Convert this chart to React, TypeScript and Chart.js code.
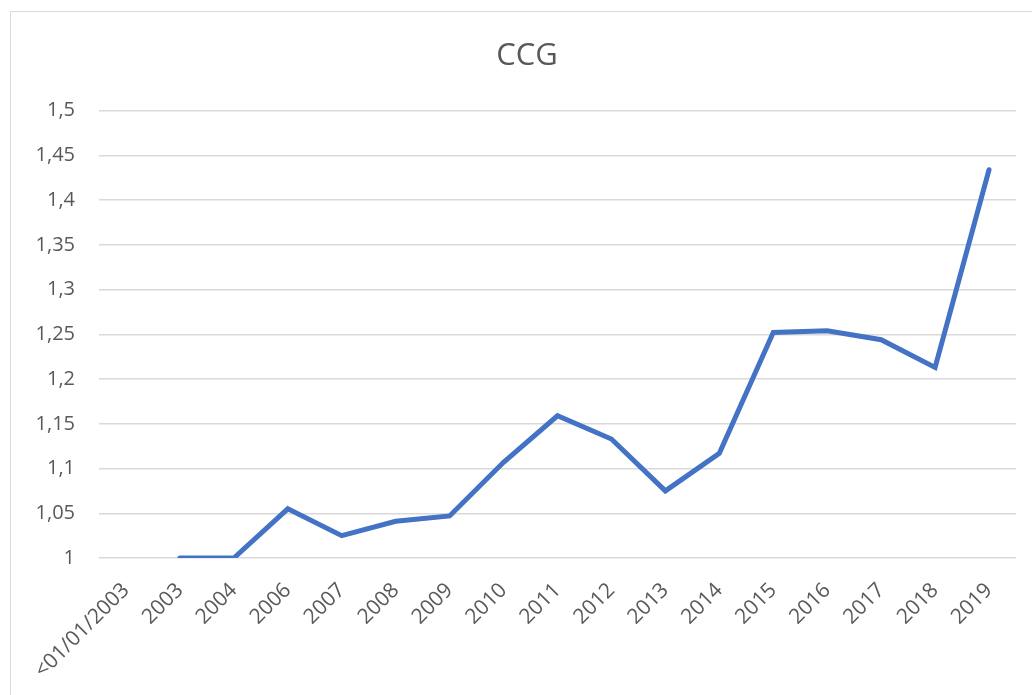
import React, { useEffect, useRef } from "react";
import { Chart, registerables } from "chart.js";

Chart.register(...registerables);

const categories = [
  "<01/01/2003", "2003", "2004", "2006", "2007", "2008", "2009", "2010",
  "2011", "2012", "2013", "2014", "2015", "2016", "2017", "2018", "2019",
];
const values: (number | null)[] = [
  null, 1.0, 1.0, 1.055, 1.025, 1.041, 1.047, 1.107,
  1.159, 1.133, 1.075, 1.117, 1.252, 1.254, 1.244, 1.213, 1.434,
];
const yMin = 1;
const yMax = 1.5;
const yStep = 0.05;
const titleText = "CCG";

export default function App() {
  const ref = useRef<HTMLCanvasElement | null>(null);
  useEffect(() => {
    if (!ref.current) return;
    const font = "'Open Sans', 'Noto Sans', sans-serif";
    const titlePlugin = {
      id: "customTitle",
      afterDraw(c: any) {
        const ctx = c.ctx;
        ctx.save();
        ctx.fillStyle = "#595959";
        ctx.font = `31px ${font}`;
        ctx.textAlign = "center";
        ctx.textBaseline = "middle";
        ctx.fillText(titleText, 527, 56);
        ctx.restore();
      },
    };
    const chart = new Chart(ref.current, {
      type: "line",
      data: {
        labels: categories,
        datasets: [
          {
            data: values,
            borderColor: "#4472C4",
            borderWidth: 5,
            pointRadius: 0,
            pointHoverRadius: 0,
            borderCapStyle: "round",
            tension: 0,
            fill: false,
          },
        ],
      },
      plugins: [titlePlugin],
      options: {
        animation: false,
        responsive: false,
        maintainAspectRatio: false,
        layout: { padding: { left: 0, right: 16, top: 110.7, bottom: 0 } },
        plugins: {
          legend: { display: false },
          tooltip: { enabled: false },
          title: { display: false },
        },
        scales: {
          x: {
            type: "category",
            offset: true,
            grid: { display: false, drawTicks: false },
            border: { display: false },
            ticks: {
              autoSkip: false,
              minRotation: 45,
              maxRotation: 45,
              padding: 20,
              color: "#595959",
              font: { family: font, size: 21 },
            },
            afterFit: (s: any) => {
              s.height = 137;
            },
          },
          y: {
            min: yMin,
            max: yMax,
            grid: { color: "#d9d9d9", lineWidth: 1.5, drawTicks: false },
            border: { display: false },
            ticks: {
              stepSize: yStep,
              padding: 24,
              color: "#595959",
              font: { family: font, size: 20 },
              callback: (v: any) => String(+Number(v).toFixed(2)).replace(".", ","),
            },
            afterFit: (s: any) => {
              s.width = 99;
            },
          },
        },
      },
    });
    return () => chart.destroy();
  }, []);
  return (
    <div
      style={{
        position: "fixed",
        left: 0,
        top: 0,
        width: 1032,
        height: 695,
        overflow: "hidden",
        background: "#ffffff",
      }}
    >
      <div
        style={{
          position: "absolute",
          left: 10,
          top: 11,
          width: 1100,
          height: 800,
          border: "1.5px solid #d9d9d9",
          boxSizing: "border-box",
        }}
      />
      <canvas
        ref={ref}
        width={1032}
        height={695}
        style={{ position: "absolute", left: 0, top: 0, width: 1032, height: 695 }}
      />
    </div>
  );
}
